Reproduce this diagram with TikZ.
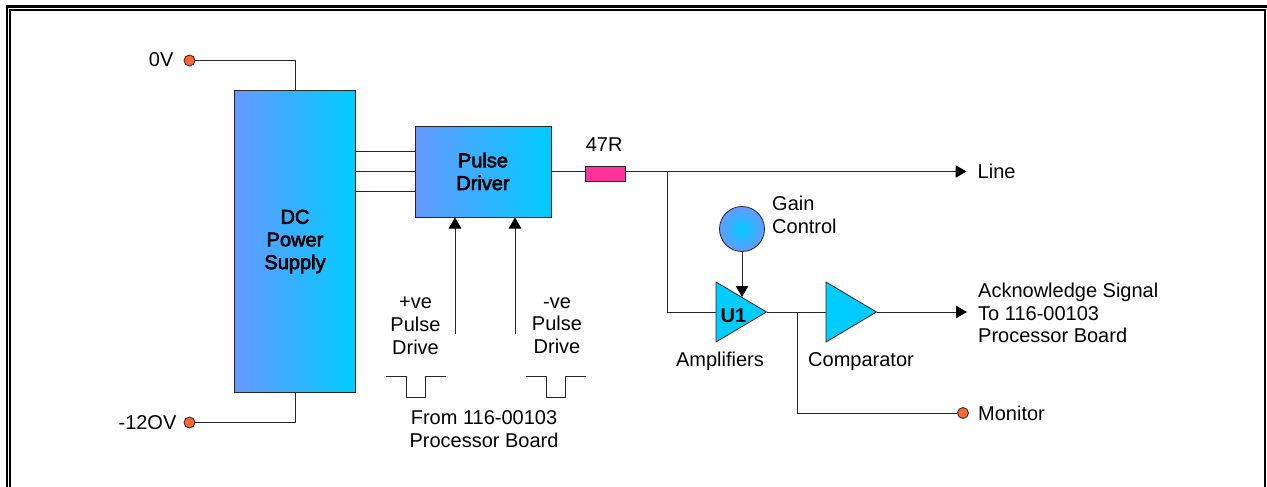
\documentclass[tikz,border=0pt]{standalone}
\usepackage{fontspec}
\setmainfont{Liberation Sans}
\newfontfamily\heavyfont[FakeBold=3]{Liberation Sans}
\usepackage{tikz}
\usetikzlibrary{positioning, arrows.meta, shapes.geometric}

\definecolor{bluel}{HTML}{6699FF}
\definecolor{bluer}{HTML}{00CCFF}
\definecolor{termc}{HTML}{FF6633}
\definecolor{resc}{HTML}{FF3399}

\begin{document}
\begin{tikzpicture}[
  x=1pt, y=-1pt,
  font=\fontsize{20}{22.7}\selectfont,
  wire/.style={draw=black!85, line width=1pt},
  arrow/.style={wire, -{Triangle[length=11pt, width=12.5pt, black]}},
  block/.style={draw=black!85, line width=1pt, left color=bluel, right color=bluer,
    align=center, inner sep=0pt, font=\fontsize{20}{22.7}\selectfont\heavyfont},
  term/.style={circle, draw=black!85, line width=0.8pt, fill=termc,
    minimum size=11pt, inner sep=0pt},
  amp/.style={isosceles triangle, isosceles triangle stretches, shape border rotate=0,
    draw=black!85, line width=0.8pt, fill=bluer, minimum height=50.5pt, minimum width=60pt,
    inner sep=0pt, outer sep=0pt},
  lbl/.style={inner sep=0pt, align=center},
  tag/.style={inner ysep=0pt, inner xsep=11pt, align=left},
]
  \useasboundingbox (0,0) rectangle (1267,487);

  % double frame, open at the bottom edge
  \draw[line width=2.2pt] (7,490) -- (7,6.5) -- (1270,6.5);
  \draw[line width=2.2pt] (10,490) -- (10,10) -- (1265,10) -- (1265,490);

  \node[block, minimum width=121pt, minimum height=301pt] (dc) at (295,241.5) {DC\\Power\\Supply};
  \node[block, minimum width=136pt, minimum height=91pt, right=58.5pt of dc, yshift=70pt] (driver) {Pulse\\Driver};
  \node[draw=black!85, line width=0.8pt, fill=resc, minimum width=40.5pt, minimum height=15pt,
    inner sep=0pt, right=33pt of driver, yshift=-2pt] (res) {};
  \node[lbl, above=13.5pt of res, xshift=-1pt] (resval) {47R};

  \node[term, left=105.5pt of dc.north, yshift=30pt, anchor=center] (zero) {};
  \node[term, left=105.5pt of dc.south, yshift=-30pt, anchor=center] (neg) {};
  \node[lbl, left=10pt of zero, yshift=1pt] (zerolbl) {0V};
  \node[lbl, left=7pt of neg] (neglbl) {-12OV};

  \draw[wire] (zero) -| (dc.north);
  \draw[wire] (neg) -| (dc.south);
  \foreach \off in {-20,0,20}
    \draw[wire] ([yshift=\off pt]driver.west) -- ([yshift=\off pt]driver.west -| dc.east);

  % output side
  \node[tag, right=415pt of driver] (lineout) {\raisebox{-1pt}{Line}};
  \draw[wire] (driver.east) -- (driver.east -| res.west);
  \draw[arrow] (driver.east -| res.east) -- (lineout.west);
  \coordinate[right=115.5pt of driver.east] (tap);

  \node[amp, anchor=lower side] (u1) at (716,312) {};
  \node[lbl, font=\fontsize{20}{22.7}\selectfont\bfseries] (u1txt) at (733.5,316) {U1};
  \node[amp, right=59.5pt of u1.apex, anchor=lower side] (comp) {};
  \node[lbl] (amplbl) at (720,361.5) {Amplifiers};
  \node[lbl] (complbl) at (861,361.5) {Comparator};

  \node[circle, draw=black!85, line width=0.8pt, minimum size=45pt, inner sep=0pt,
    inner color=bluer, outer color=bluel] (gain) at (742,229) {};
  \node[lbl, align=left, anchor=west] (gainlbl) at (772,215) {Gain\\Control};
  \draw[arrow] (gain.south) -- (gain.south |- u1.left side);

  \draw[wire] (tap) |- (u1.lower side);
  \draw[wire] (u1.apex) -- (comp.lower side);
  \node[tag, right=90.5pt of comp.apex, yshift=-1pt] (ack) {Acknowledge Signal\\To 116-00103\\Processor Board};
  \draw[arrow] (comp.apex) -- (ack.west |- comp.apex);

  \coordinate[right=30.5pt of u1.apex] (split);
  \node[term] (mon) at (963,413) {};
  \node[tag, anchor=west, inner xsep=15pt] (monlbl) at (mon.center) {Monitor};
  \draw[wire] (split) |- (mon);

  % pulse inputs
  \node[lbl] (plus) at (415.5,326) {+ve\\Pulse\\Drive};
  \node[lbl] (minus) at (557,325.5) {-ve\\Pulse\\Drive};
  \coordinate (pin) at (455,334);
  \coordinate[right=60pt of pin] (nin);
  \draw[arrow] (pin) -- (pin |- driver.south);
  \draw[arrow] (nin) -- (nin |- driver.south);

  \foreach \px in {386,526}
    \draw[wire] (\px,376) -- ++(20.5,0) -- ++(0,21) -- ++(19,0) -- ++(0,-21) -- ++(20.5,0);

  \node[lbl] (from) at (484,429) {From 116-00103\\Processor Board};
\end{tikzpicture}
\end{document}
